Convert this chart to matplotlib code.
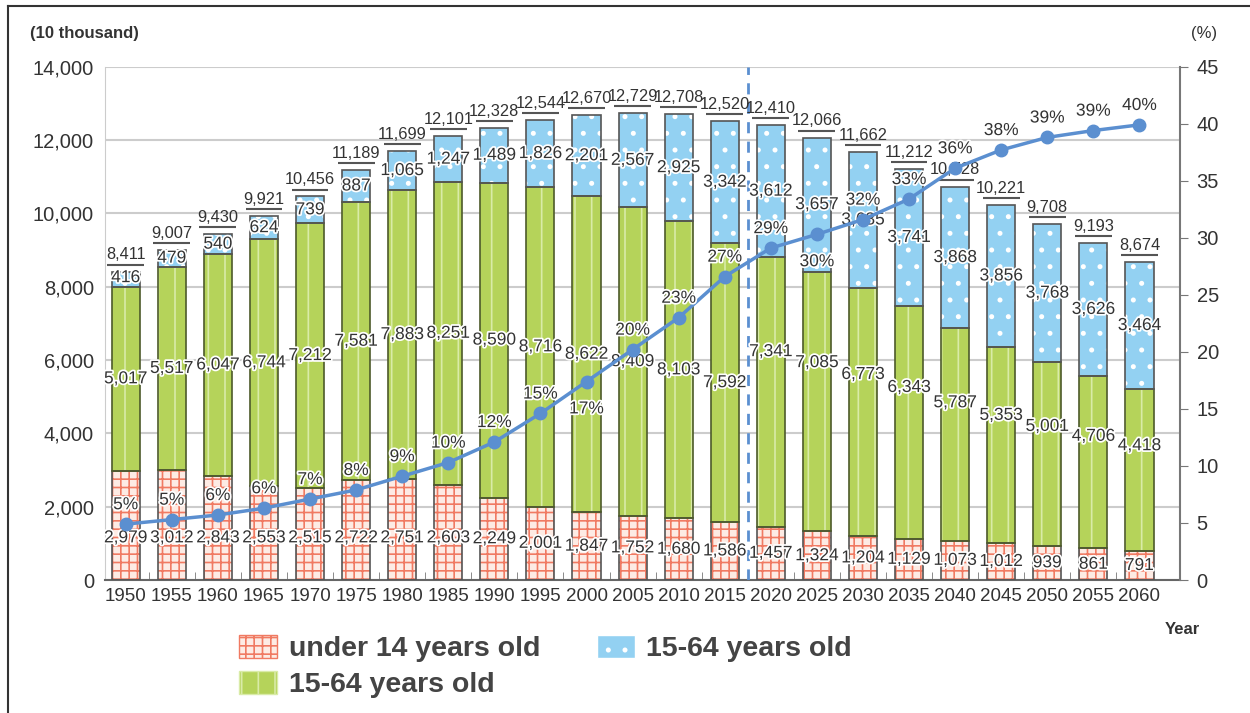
import numpy as np
import matplotlib
matplotlib.use("Agg")
import matplotlib.pyplot as plt
import matplotlib.patheffects as pe
from matplotlib.patches import Patch
from matplotlib.lines import Line2D

# data
years = [1950, 1955, 1960, 1965, 1970, 1975, 1980, 1985, 1990, 1995, 2000, 2005,
         2010, 2015, 2020, 2025, 2030, 2035, 2040, 2045, 2050, 2055, 2060]
under14 = [2979, 3012, 2843, 2553, 2515, 2722, 2751, 2603, 2249, 2001, 1847, 1752,
           1680, 1586, 1457, 1324, 1204, 1129, 1073, 1012, 939, 861, 791]
working = [5017, 5517, 6047, 6744, 7212, 7581, 7883, 8251, 8590, 8716, 8622, 8409,
           8103, 7592, 7341, 7085, 6773, 6343, 5787, 5353, 5001, 4706, 4418]
elderly = [416, 479, 540, 624, 739, 887, 1065, 1247, 1489, 1826, 2201, 2567,
           2925, 3342, 3612, 3657, 3685, 3741, 3868, 3856, 3768, 3626, 3464]
totals = [8411, 9007, 9430, 9921, 10456, 11189, 11699, 12101, 12328, 12544, 12670, 12729,
          12708, 12520, 12410, 12066, 11662, 11212, 10728, 10221, 9708, 9193, 8674]
pct = [4.9, 5.3, 5.7, 6.3, 7.1, 7.9, 9.1, 10.3, 12.1, 14.6, 17.4, 20.2,
       23.0, 26.6, 29.1, 30.3, 31.6, 33.4, 36.1, 37.7, 38.8, 39.4, 39.9]
pct_labels = ["5%", "5%", "6%", "6%", "7%", "8%", "9%", "10%", "12%", "15%", "17%", "20%",
              "23%", "27%", "29%", "30%", "32%", "33%", "36%", "38%", "39%", "39%", "40%"]
first_forecast = 2020

plt.rcParams['font.family'] = ['Liberation Sans', 'DejaVu Sans']
plt.rcParams['hatch.linewidth'] = 1.2

red_face, red_hatch = '#fdebe4', '#f07a62'
green_face, green_hatch = '#b5d35a', '#d9eba8'
blue_face, blue_hatch = '#93d1f2', '#ffffff'
edge = '#555555'
line_c = '#5b8fd0'
txt_c = '#333333'
halo = [pe.withStroke(linewidth=2.5, foreground='white')]
lab_fs = 12.5

fig = plt.figure(figsize=(12.5, 7.13), dpi=100)
ax = fig.add_axes([0.084, 0.1865, 0.86, 0.72])
x = np.arange(len(years))
w = 0.61
u = np.array(under14)
g = np.array(working)
b = np.array(elderly)

# filled, hatched segments then outlines
ax.bar(x, u, w, color=red_face, edgecolor=red_hatch, hatch='++', linewidth=0, zorder=2)
ax.bar(x, g, w, bottom=u, color=green_face, edgecolor=green_hatch, hatch='|', linewidth=0, zorder=2)
ax.bar(x, b, w, bottom=u + g, color=blue_face, edgecolor=blue_hatch, hatch='.', linewidth=0, zorder=2)
ax.bar(x, u, w, fill=False, edgecolor=edge, linewidth=1.2, zorder=3)
ax.bar(x, g, w, bottom=u, fill=False, edgecolor='#4d5a2a', linewidth=1.2, zorder=3)
ax.bar(x, b, w, bottom=u + g, fill=False, edgecolor=edge, linewidth=1.2, zorder=3)

ax.set_xlim(-0.45, 22.88)
ax.set_ylim(0, 14000)
ax.set_yticks(range(0, 14001, 2000))
ax.set_yticklabels(['{:,}'.format(v) for v in range(0, 14001, 2000)])
ax.yaxis.grid(True, color='#cccccc', linewidth=1.5, zorder=0)
ax.set_axisbelow(True)
ax.set_xticks(x)
ax.set_xticklabels([str(y) for y in years])
ax.set_xticks(x[:-1] + 0.5, minor=True)
ax.tick_params(axis='x', which='major', length=0, labelsize=13.5, colors=txt_c, pad=6)
ax.tick_params(axis='x', which='minor', direction='in', length=6, color='#777777')
ax.tick_params(axis='y', length=0, labelsize=14.5, colors=txt_c, pad=8)
ax.spines['top'].set_visible(False)
ax.spines['right'].set_visible(False)
ax.spines['left'].set_color('#cccccc')
ax.spines['bottom'].set_color('#666666')
ax.spines['bottom'].set_linewidth(1.5)

# forecast separator
sep = years.index(first_forecast) - 0.5
ax.axvline(sep, color=line_c, linestyle=(0, (4, 3)), linewidth=2, zorder=4)

for i in range(len(years)):
    forecast = years[i] >= first_forecast
    # under 14
    yu = min(u[i] / 2, 1150)
    ax.text(x[i], yu, '{:,}'.format(u[i]), ha='center', va='center', fontsize=lab_fs,
            color=txt_c, zorder=6, path_effects=halo)
    # 15-64
    frac = 0.65 if forecast else 0.5
    ax.text(x[i], u[i] + g[i] * frac, '{:,}'.format(g[i]), ha='center', va='center',
            fontsize=lab_fs, color=txt_c, zorder=6, path_effects=halo)
    # 65+
    yb = u[i] + g[i] + max(b[i] / 2, 250)
    ax.text(x[i], yb, '{:,}'.format(b[i]), ha='center', va='center', fontsize=lab_fs,
            color=txt_c, zorder=6, path_effects=halo)
    # totals with underline
    ax.plot([x[i] - 0.4, x[i] + 0.4], [totals[i] + 190] * 2, color='#555555',
            linewidth=1.5, zorder=6, solid_capstyle='butt')
    ax.text(x[i], totals[i] + 250, '{:,}'.format(totals[i]), ha='center', va='bottom',
            fontsize=11.8, color=txt_c, zorder=6)

ax2 = ax.twinx()
ax2.set_ylim(0, 45)
ax2.set_yticks(range(0, 46, 5))
ax2.tick_params(axis='y', length=6, color='#777777', labelsize=14.5, labelcolor=txt_c, pad=6)
for s in ['top', 'left', 'bottom']:
    ax2.spines[s].set_visible(False)
ax2.spines['right'].set_color('#777777')
ax2.spines['right'].set_linewidth(1.5)
ax2.plot(x, pct, color=line_c, linewidth=2.5, marker='o', markersize=9, zorder=5)
for i in range(len(years)):
    below = years[i] in (2000, 2025)
    dy = -2.4 if below else 1.7
    ax2.text(x[i], pct[i] + dy, pct_labels[i], ha='center', va='center', fontsize=lab_fs,
             color=txt_c, zorder=6, path_effects=halo)

fig.text(0.024, 0.953, '(10 thousand)', fontsize=12, fontweight='bold', color='#333333',
         va='center')
fig.text(0.953, 0.953, '(%)', fontsize=12, color='#333333', va='center')
fig.text(0.932, 0.117, 'Year', fontsize=12, fontweight='bold', color='#333333',
         va='center')

handles = [Patch(facecolor=red_face, edgecolor=red_hatch, hatch='++'),
           Patch(facecolor=green_face, edgecolor=green_hatch, hatch='|'),
           Patch(facecolor=blue_face, edgecolor=blue_hatch, hatch='.')]
labels = ['under 14 years old', '15-64 years old', '15-64 years old']
leg = fig.legend(handles, labels, ncol=2, loc='upper left', bbox_to_anchor=(0.171, 0.145),
                 frameon=False, handlelength=1.33, handleheight=0.85, columnspacing=2.0,
                 labelspacing=0.3, handletextpad=0.4,
                 prop={'weight': 'bold', 'size': 20.5})
for t in leg.get_texts():
    t.set_color('#444444')

# outer frame (top and left edges as in the screenshot)
fig.add_artist(Line2D([0.006, 1.0], [0.991, 0.991], color='#333333', linewidth=1.5))
fig.add_artist(Line2D([0.006, 0.006], [0.0, 0.991], color='#333333', linewidth=1.5))

fig.savefig('out.png', dpi=100)
